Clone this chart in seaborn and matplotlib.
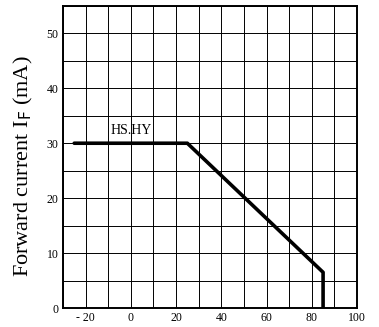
import matplotlib
matplotlib.use("Agg")
import matplotlib.pyplot as plt
import seaborn as sns
import pandas as pd

# Derating curve for HS/HY: forward current vs ambient temperature
temperature = [-25, 25, 85, 85]
forward_current = [30, 30, 6.5, 0]
x_ticks = [-20, 0, 20, 40, 60, 80, 100]
x_tick_labels = ["- 20", "0", "20", "40", "60", "80", "100"]
y_ticks = [0, 10, 20, 30, 40, 50]
series_label = "HS.HY"

sns.set_theme(style="white")
plt.rcParams["font.family"] = ["Liberation Serif", "DejaVu Serif"]

df = pd.DataFrame({"temp": temperature, "current": forward_current})

fig = plt.figure(figsize=(3.79, 3.27), dpi=100)
ax = fig.add_axes([0.166, 0.058, 0.776, 0.924])

# fine grid every 10 °C / 5 mA
for xv in range(-30, 101, 10):
    ax.axvline(xv, color="black", lw=0.7, zorder=1)
for yv in range(0, 56, 5):
    ax.axhline(yv, color="black", lw=0.7, zorder=1)

sns.lineplot(data=df, x="temp", y="current", sort=False, estimator=None,
             color="black", lw=2.6, ax=ax, zorder=3)

ax.text(0, 31.2, series_label, ha="center", va="bottom", fontsize=10,
        color="black")

ax.set_xlim(-30, 100)
ax.set_ylim(0, 55)
ax.set_xticks(x_ticks)
ax.set_xticklabels(x_tick_labels)
ax.set_yticks(y_ticks)
ax.tick_params(axis="both", length=0, labelsize=8.5, colors="black", pad=3)
ax.set_xlabel("")
ax.set_ylabel(r"Forward current I$_{\rm F}$ (mA)", fontsize=16, color="black")
ax.yaxis.set_label_coords(-0.095, 0.47)
for sp in ax.spines.values():
    sp.set_color("black")
    sp.set_linewidth(1.4)

fig.savefig("out.png", dpi=100)
